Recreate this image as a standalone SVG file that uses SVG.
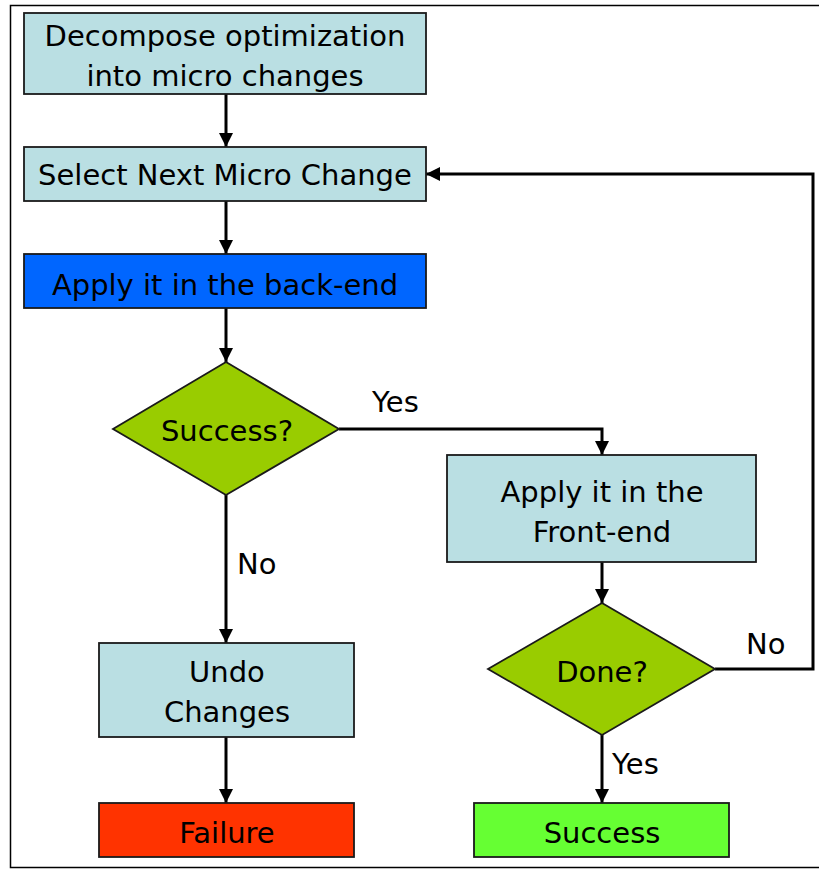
<svg xmlns="http://www.w3.org/2000/svg" width="819" height="869" viewBox="0 0 819 869">
<style>
.box{fill:#BADFE3;stroke:#1a1a1a;stroke-width:1.8}
.dia{fill:#99CC00;stroke:#1a1a1a;stroke-width:1.8}
.t{font-family:"DejaVu Sans","Verdana",sans-serif;font-size:29px;fill:#000;text-anchor:middle}
.lbl{font-family:"DejaVu Sans","Verdana",sans-serif;font-size:29px;fill:#000}
.c{fill:none;stroke:#000;stroke-width:3}
</style>
<defs>
<marker id="ah" viewBox="0 0 14 14" refX="14" refY="7" markerWidth="14" markerHeight="14" markerUnits="userSpaceOnUse" orient="auto">
<path d="M0,0 L14,7 L0,14 Z" fill="#000"/>
</marker>
</defs>
<rect x="10.5" y="5.5" width="820" height="862" fill="#fff" stroke="#000" stroke-width="1.5"/>
<g id="connectors">
<path class="c" d="M226,94 V147" marker-end="url(#ah)"/>
<path class="c" d="M226,201 V254" marker-end="url(#ah)"/>
<path class="c" d="M226,308 V362" marker-end="url(#ah)"/>
<path class="c" d="M339,429 H602 V455" marker-end="url(#ah)"/>
<path class="c" d="M226,495 V643" marker-end="url(#ah)"/>
<path class="c" d="M602,562 V603" marker-end="url(#ah)"/>
<path class="c" d="M715,669 H813 V174 H426" marker-end="url(#ah)"/>
<path class="c" d="M226,737 V803" marker-end="url(#ah)"/>
<path class="c" d="M602,735 V803" marker-end="url(#ah)"/>
<text class="lbl" x="372" y="412">Yes</text>
<text class="lbl" x="237" y="574">No</text>
<text class="lbl" x="746" y="654">No</text>
<text class="lbl" x="612" y="774">Yes</text>
</g>
<g id="decompose">
<rect class="box" x="24" y="13" width="402" height="81"/>
<text class="t" x="225" y="46">Decompose optimization</text>
<text class="t" x="225" y="86">into micro changes</text>
</g>
<g id="select">
<rect class="box" x="24" y="147" width="402" height="54"/>
<text class="t" x="225" y="185">Select Next Micro Change</text>
</g>
<g id="backend">
<rect class="box" x="24" y="254" width="402" height="54" style="fill:#0066FF"/>
<text class="t" x="225" y="295">Apply it in the back-end</text>
</g>
<g id="success-q">
<polygon class="dia" points="226,362 339,429 226,495 113,429"/>
<text class="t" x="227" y="441">Success?</text>
</g>
<g id="frontend">
<rect class="box" x="447" y="455" width="309" height="107"/>
<text class="t" x="602" y="502">Apply it in the</text>
<text class="t" x="602" y="542">Front-end</text>
</g>
<g id="done-q">
<polygon class="dia" points="602,603 715,669 602,735 488,669"/>
<text class="t" x="602" y="682">Done?</text>
</g>
<g id="undo">
<rect class="box" x="99" y="643" width="255" height="94"/>
<text class="t" x="227" y="682">Undo</text>
<text class="t" x="227" y="722">Changes</text>
</g>
<g id="failure">
<rect class="box" x="99" y="803" width="255" height="54" style="fill:#FF3300"/>
<text class="t" x="227" y="843">Failure</text>
</g>
<g id="success">
<rect class="box" x="474" y="803" width="255" height="54" style="fill:#66FF33"/>
<text class="t" x="602" y="843">Success</text>
</g>
</svg>
